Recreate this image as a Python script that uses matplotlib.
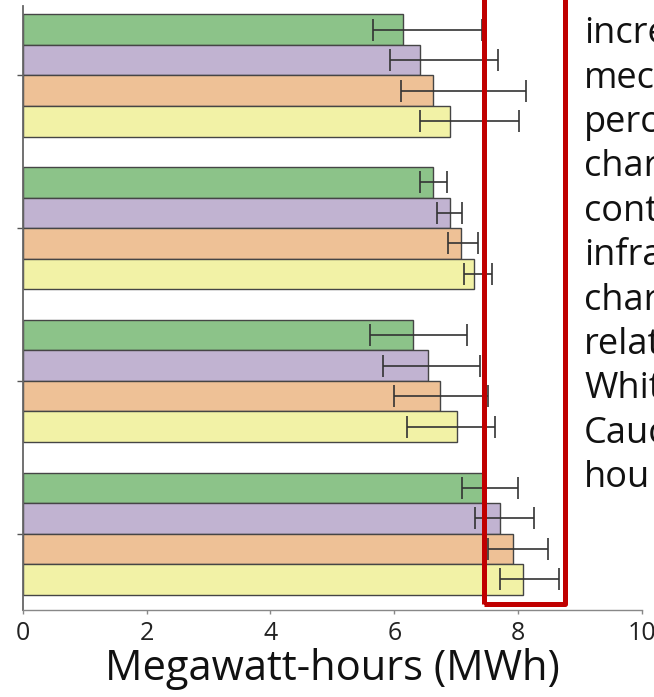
import numpy as np
import matplotlib
matplotlib.use('Agg')
import matplotlib.pyplot as plt
from matplotlib.patches import Rectangle
import matplotlib.transforms as mtransforms

plt.rcParams['font.family'] = ['Open Sans', 'DejaVu Sans']

# four groups (top to bottom), four series each (top to bottom within a group)
series_names = ['green', 'purple', 'orange', 'yellow']
series_colors = ['#8cc389', '#c1b3d1', '#eec196', '#f2f2a6']

green_val = [6.14, 6.62, 6.30, 7.43]
green_lo = [5.66, 6.42, 5.60, 7.09]
green_hi = [7.41, 6.85, 7.18, 8.00]

purple_val = [6.41, 6.90, 6.55, 7.70]
purple_lo = [5.93, 6.69, 5.81, 7.30]
purple_hi = [7.68, 7.10, 7.39, 8.26]

orange_val = [6.62, 7.08, 6.74, 7.91]
orange_lo = [6.11, 6.86, 6.00, 7.52]
orange_hi = [8.13, 7.35, 7.52, 8.48]

yellow_val = [6.90, 7.29, 7.01, 8.08]
yellow_lo = [6.42, 7.12, 6.20, 7.70]
yellow_hi = [8.01, 7.58, 7.62, 8.66]

xticks = [0, 2, 4, 6, 8, 10]
xlabel = 'Megawatt-hours (MWh)'

# highlighted range (data units on x)
box_x0, box_x1 = 7.45, 8.75

# the paragraph on the right is cut by the image edge; only these starts show
side_words = ['incre', 'mec', 'perc', 'char', 'cont', 'infra', 'char',
              'relat', 'Whit', 'Cauc', 'hou']

fig = plt.figure(figsize=(6.54, 6.97), dpi=100)
ax = fig.add_axes([22.7 / 654, 87 / 697, 619.3 / 654, 604 / 697])

groups = np.arange(4)
bar_h = 0.2
offsets = [-0.3, -0.1, 0.1, 0.3]
vals = [green_val, purple_val, orange_val, yellow_val]
los = [green_lo, purple_lo, orange_lo, yellow_lo]
his = [green_hi, purple_hi, orange_hi, yellow_hi]

for k in range(4):
    v = np.array(vals[k])
    lo = np.array(los[k])
    hi = np.array(his[k])
    y = groups + offsets[k]
    ax.barh(y, v, height=bar_h, color=series_colors[k],
            edgecolor='#454545', linewidth=1.0, zorder=2)
    ax.errorbar(v, y, xerr=[v - lo, hi - v], fmt='none', ecolor='#333333',
                elinewidth=1.2, capsize=8, capthick=1.2, zorder=3)

ax.set_xlim(0, 10)
ax.set_ylim(3.5, -0.455)
ax.set_xticks(xticks)
ax.set_xticklabels([str(t) for t in xticks], fontsize=18, color='#222222')
ax.set_yticks(groups)
ax.set_yticklabels([])
ax.tick_params(axis='x', length=3, width=1, color='#888888', pad=5)
ax.tick_params(axis='y', length=4, width=1, color='#555555')
ax.set_xlabel(xlabel, fontsize=30, color='#111111', labelpad=1)

for s in ['top', 'right']:
    ax.spines[s].set_visible(False)
ax.spines['left'].set_color('#666666')
ax.spines['left'].set_linewidth(1.3)
ax.spines['bottom'].set_color('#888888')
ax.spines['bottom'].set_linewidth(1.0)

# red highlight box, runs off the top of the figure
trans = mtransforms.blended_transform_factory(ax.transData, ax.transAxes)
box = Rectangle((box_x0, 0.01), box_x1 - box_x0, 1.2, transform=trans,
                fill=False, edgecolor='#c00000', linewidth=3.6,
                joinstyle='round', clip_on=False, zorder=5)
ax.add_patch(box)

# side text, clipped by the figure edge
for i, w in enumerate(side_words):
    yb = 43.3 + 44.4 * i
    fig.text(584 / 654, 1 - yb / 697, w, fontsize=26, color='#111111',
             ha='left', va='baseline')

fig.savefig('out.png', dpi=100)
